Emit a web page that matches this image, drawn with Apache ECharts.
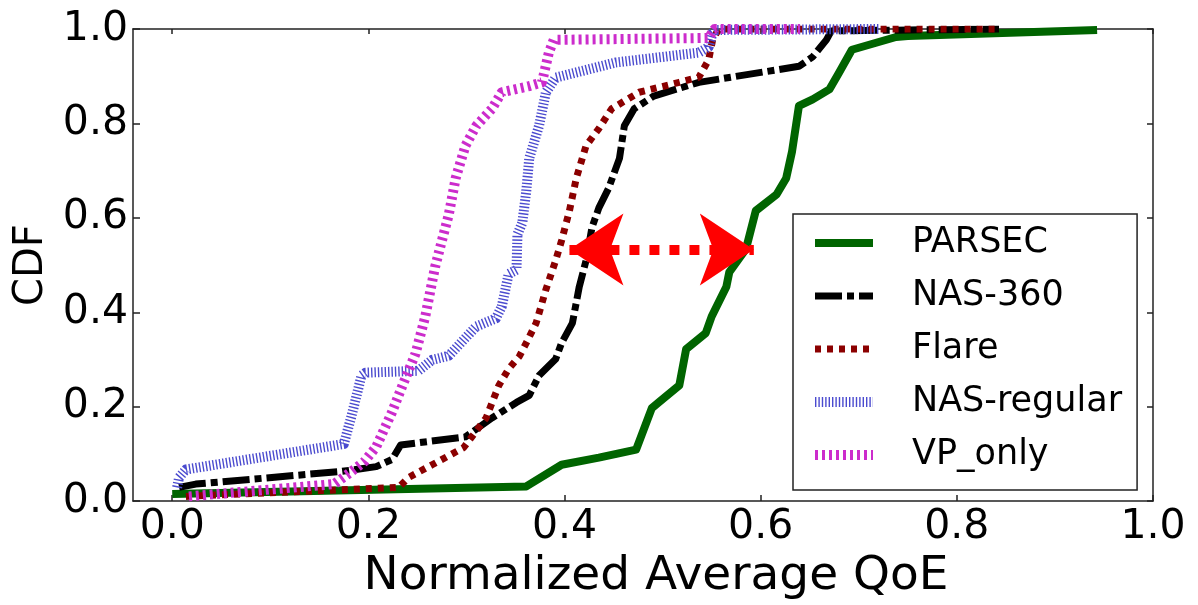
<!DOCTYPE html>
<html><head><meta charset="utf-8">
<script src="https://cdn.jsdelivr.net/npm/echarts@6/dist/echarts.min.js"></script>
<style>html,body{margin:0;padding:0;background:#fff}#c{width:1198px;height:605px}</style>
</head><body><div id="c"></div>
<script>
const seriesNames = ['PARSEC', 'NAS-360', 'Flare', 'NAS-regular', 'VP_only'];
const tickValues = [0.0, 0.2, 0.4, 0.6, 0.8, 1.0];

const parsecX = [0.0, 0.361, 0.397, 0.435, 0.473, 0.489, 0.496, 0.517, 0.524, 0.544, 0.550, 0.565, 0.568, 0.585, 0.595, 0.616, 0.626, 0.632, 0.639, 0.653, 0.670, 0.680, 0.693, 0.738, 0.75, 0.943];
const parsecY = [0.015, 0.031, 0.077, 0.092, 0.109, 0.197, 0.209, 0.245, 0.322, 0.356, 0.391, 0.454, 0.485, 0.534, 0.615, 0.649, 0.684, 0.741, 0.837, 0.851, 0.872, 0.908, 0.956, 0.983, 0.985, 0.998];

const nas360X = [0.007, 0.024, 0.173, 0.208, 0.224, 0.233, 0.299, 0.326, 0.351, 0.364, 0.374, 0.391, 0.397, 0.408, 0.415, 0.422, 0.428, 0.435, 0.445, 0.456, 0.461, 0.471, 0.491, 0.537, 0.639, 0.653, 0.667, 0.672, 0.843];
const nas360Y = [0.029, 0.036, 0.063, 0.073, 0.088, 0.119, 0.136, 0.176, 0.209, 0.224, 0.266, 0.301, 0.335, 0.377, 0.454, 0.510, 0.580, 0.621, 0.663, 0.726, 0.795, 0.831, 0.858, 0.887, 0.921, 0.941, 0.977, 0.996, 1.0];

const flareX = [0.014, 0.231, 0.241, 0.265, 0.297, 0.320, 0.333, 0.343, 0.354, 0.361, 0.371, 0.381, 0.391, 0.397, 0.405, 0.412, 0.422, 0.435, 0.448, 0.476, 0.517, 0.537, 0.547, 0.551, 0.555, 0.558, 0.84];
const flareY = [0.010, 0.029, 0.050, 0.077, 0.113, 0.176, 0.245, 0.280, 0.307, 0.335, 0.377, 0.448, 0.510, 0.552, 0.615, 0.684, 0.753, 0.789, 0.831, 0.866, 0.887, 0.898, 0.935, 0.977, 0.992, 1.0, 1.0];

const nasRegX = [0.005, 0.007, 0.014, 0.175, 0.183, 0.193, 0.197, 0.251, 0.265, 0.282, 0.310, 0.330, 0.336, 0.343, 0.351, 0.352, 0.357, 0.361, 0.364, 0.374, 0.381, 0.391, 0.452, 0.537, 0.547, 0.551, 0.555, 0.72];
const nasRegY = [0.029, 0.050, 0.067, 0.121, 0.182, 0.266, 0.272, 0.276, 0.299, 0.308, 0.370, 0.387, 0.412, 0.481, 0.490, 0.565, 0.590, 0.657, 0.726, 0.795, 0.866, 0.897, 0.929, 0.950, 0.962, 0.992, 0.998, 1.0];

const vpX = [0.017, 0.165, 0.183, 0.196, 0.208, 0.224, 0.234, 0.248, 0.258, 0.268, 0.275, 0.282, 0.289, 0.299, 0.310, 0.326, 0.336, 0.364, 0.377, 0.384, 0.389, 0.547, 0.553, 0.64];
const vpY = [0.010, 0.036, 0.063, 0.084, 0.115, 0.188, 0.241, 0.312, 0.391, 0.496, 0.552, 0.607, 0.684, 0.753, 0.795, 0.831, 0.866, 0.879, 0.887, 0.950, 0.977, 0.981, 1.0, 1.0];

const arrowX = [0.405, 0.593];
const arrowY = 0.533;

const FONT = 'DejaVu Sans';
const zip = (xs, ys) => xs.map((x, i) => [x, ys[i]]);
const styles = [
  { color: '#006400', width: 8, type: 'solid' },
  { color: '#000000', width: 7, type: [27, 5, 7, 5] },
  { color: '#8b0000', width: 7, type: [6, 6] },
  { color: '#4b4bcf', width: 10, type: [1.4, 2] },
  { color: '#cc2ccc', width: 10, type: [3, 4] }
];
const datas = [zip(parsecX, parsecY), zip(nas360X, nas360Y), zip(flareX, flareY), zip(nasRegX, nasRegY), zip(vpX, vpY)];

const series = seriesNames.map((n, i) => ({
  name: n, type: 'line', data: datas[i], showSymbol: false, symbol: 'none',
  lineStyle: { color: styles[i].color, width: styles[i].width, type: styles[i].type, cap: 'butt', join: 'round' },
  itemStyle: { color: styles[i].color }, z: 2 + i
}));
series.push({
  name: 'arrow', type: 'line', data: [], z: 20,
  markLine: {
    silent: true, animation: false,
    symbol: ['arrow', 'arrow'], symbolSize: [54, 54],
    label: { show: false },
    lineStyle: { color: '#ff0000', width: 10, type: [10, 10], cap: 'butt' },
    itemStyle: { color: '#ff0000' },
    data: [[{ coord: [arrowX[0], arrowY] }, { coord: [arrowX[1], arrowY] }]]
  }
});

const axisLine = { show: true, onZero: false, lineStyle: { color: '#222', width: 1.5 } };
const fmt = v => v.toFixed(1);

const chart = echarts.init(document.getElementById('c'), null, { renderer: 'canvas' });
chart.setOption({
  animation: false,
  backgroundColor: '#fff',
  grid: { left: 133, right: 45, top: 29, bottom: 98, containLabel: false },
  xAxis: [
    { type: 'value', position: 'bottom', min: -0.04, max: 1.0,
      axisLine, splitLine: { show: false },
      axisTick: { show: true, inside: true, length: 6, customValues: tickValues, lineStyle: { color: '#222', width: 1.5 } },
      axisLabel: { customValues: tickValues, formatter: fmt, fontFamily: FONT, fontSize: 41, color: '#000', margin: 6 },
      name: 'Normalized Average QoE', nameLocation: 'middle', nameGap: 46,
      nameTextStyle: { fontFamily: FONT, fontSize: 47, color: '#000', padding: [0, 0, 0, 26] } },
    { type: 'value', position: 'top', min: -0.04, max: 1.0,
      axisLine, splitLine: { show: false },
      axisTick: { show: true, inside: true, length: 5, customValues: tickValues, lineStyle: { color: '#222', width: 1.5 } },
      axisLabel: { show: false } }
  ],
  yAxis: [
    { type: 'value', position: 'left', min: 0, max: 1, interval: 0.2,
      axisLine, splitLine: { show: false },
      axisTick: { show: true, inside: true, length: 7, lineStyle: { color: '#222', width: 1.5 } },
      axisLabel: { formatter: fmt, fontFamily: FONT, fontSize: 41, color: '#000', margin: 5 },
      name: 'CDF', nameLocation: 'middle', nameGap: 76, nameRotate: 90,
      nameTextStyle: { fontFamily: FONT, fontSize: 40, color: '#000' } },
    { type: 'value', position: 'right', min: 0, max: 1, interval: 0.2,
      axisLine, splitLine: { show: false },
      axisTick: { show: true, inside: true, length: 6, lineStyle: { color: '#222', width: 1.5 } },
      axisLabel: { show: false } }
  ],
  legend: {
    orient: 'vertical', left: 793, top: 214,
    padding: [9, 15, 15, 17],
    itemWidth: 58, itemHeight: 20, itemGap: 13,
    borderColor: '#222', borderWidth: 1.5, backgroundColor: '#fff', borderRadius: 0,
    textStyle: { fontFamily: FONT, fontSize: 35, color: '#000', lineHeight: 40, padding: [0, 0, 0, 34] },
    itemStyle: { opacity: 0 },
    data: seriesNames.map((n, i) => ({
      name: n,
      itemStyle: { opacity: 0 },
      lineStyle: { color: styles[i].color, width: styles[i].width, type: styles[i].type, cap: 'butt', opacity: 1 }
    }))
  },
  series
});
</script>
</body></html>
